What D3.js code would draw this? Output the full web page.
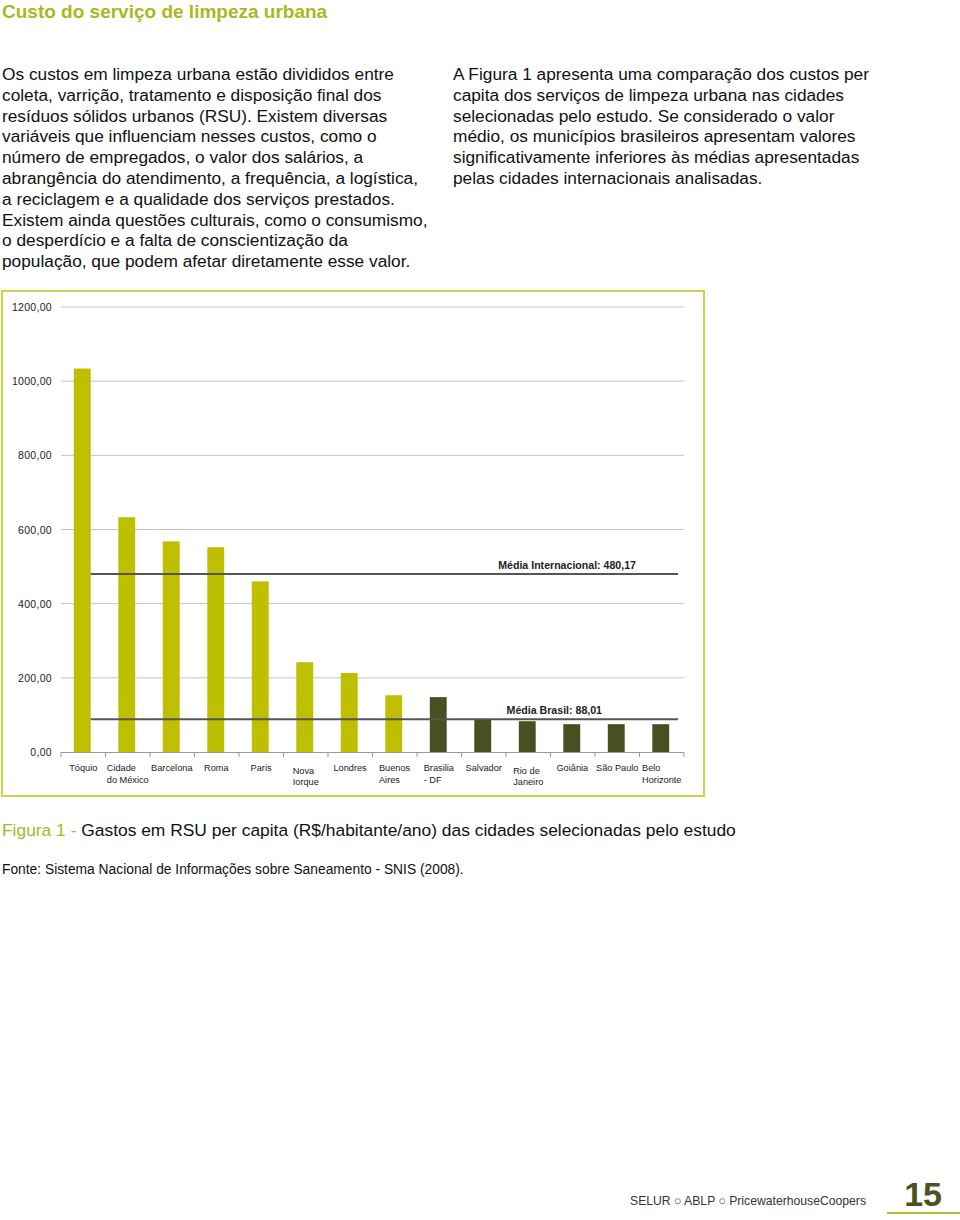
<!DOCTYPE html>
<html><head><meta charset="utf-8">
<script src="https://cdn.jsdelivr.net/npm/d3@7/dist/d3.min.js"></script>
<style>
body{margin:0;background:#fff;}
svg{display:block;font-family:"Liberation Sans",Arial,sans-serif;}
</style></head>
<body>
<svg id="c" width="960" height="1220"></svg>
<script>
const cities = [["Tóquio"],["Cidade","do México"],["Barcelona"],["Roma"],["Paris"],["Nova","Iorque"],["Londres"],["Buenos","Aires"],["Brasilia","- DF"],["Salvador"],["Rio de","Janeiro"],["Goiânia"],["São Paulo"],["Belo","Horizonte"]];
const values = [1034, 633, 568, 552, 460, 242, 213, 153, 148, 89, 83, 75, 75, 75];
const groups = ["int","int","int","int","int","int","int","int","br","br","br","br","br","br"];
const yTicks = [0,200,400,600,800,1000,1200];
const mediaInt = 480.17, mediaBr = 88.01;
const leftText = ["Os custos em limpeza urbana estão divididos entre","coleta, varrição, tratamento e disposição final dos","resíduos sólidos urbanos (RSU). Existem diversas","variáveis que influenciam nesses custos, como o","número de empregados, o valor dos salários, a","abrangência do atendimento, a frequência, a logística,","a reciclagem e a qualidade dos serviços prestados.","Existem ainda questões culturais, como o consumismo,","o desperdício e a falta de conscientização da","população, que podem afetar diretamente esse valor."];
const rightText = ["A Figura 1 apresenta uma comparação dos custos per","capita dos serviços de limpeza urbana nas cidades","selecionadas pelo estudo. Se considerado o valor","médio, os municípios brasileiros apresentam valores","significativamente inferiores às médias apresentadas","pelas cidades internacionais analisadas."];

const svg = d3.select("#c");
const olive = "#a9b81b";

svg.append("text").attr("x",2).attr("y",18).attr("font-size",19).attr("font-weight","bold").attr("fill",olive).text("Custo do serviço de limpeza urbana");

svg.selectAll("text.lt").data(leftText).join("text").attr("class","lt")
  .attr("x",2).attr("y",(d,i)=>80+i*20.8).attr("font-size",17.3).attr("fill","#111").text(d=>d);
svg.selectAll("text.rt").data(rightText).join("text").attr("class","rt")
  .attr("x",453).attr("y",(d,i)=>80+i*20.8).attr("font-size",17.3).attr("fill","#111").text(d=>d);

// frame
svg.append("rect").attr("x",2).attr("y",291).attr("width",702).attr("height",505)
  .attr("fill","none").attr("stroke","#cdd444").attr("stroke-width",2);

const x = d3.scaleBand().domain(d3.range(cities.length)).range([61,684]).paddingInner(0).paddingOuter(0);
const y = d3.scaleLinear().domain([0,1200]).range([752,307]);

const g = svg.append("g");
// gridlines
g.selectAll("line.grid").data(yTicks.filter(d=>d>0)).join("line")
  .attr("x1",61).attr("x2",684).attr("y1",d=>y(d)).attr("y2",d=>y(d))
  .attr("stroke","#c4c4c4").attr("stroke-width",1);
// y labels
g.selectAll("text.yl").data(yTicks).join("text").attr("class","yl")
  .attr("x",52).attr("y",d=>y(d)+4).attr("text-anchor","end").attr("font-size",10.5).attr("letter-spacing",0.3).attr("fill","#222")
  .text(d=>d3.format(".2f")(d).replace(".",","));

// bars
const bw = x.bandwidth()*0.38;
g.selectAll("rect.bar").data(values).join("rect")
  .attr("x",(d,i)=>x(i)+x.bandwidth()/2-bw/2-1).attr("width",bw)
  .attr("y",d=>y(d)).attr("height",d=>y(0)-y(d))
  .attr("fill",(d,i)=>groups[i]==="int"?"#bdbf00":"#4a4f22");

// axis
g.append("line").attr("x1",61).attr("x2",684).attr("y1",y(0)+0.5).attr("y2",y(0)+0.5).attr("stroke","#9a9a9a");
g.selectAll("line.tk").data(d3.range(cities.length+1)).join("line")
  .attr("x1",i=>i<cities.length?x(i):684).attr("x2",i=>i<cities.length?x(i):684)
  .attr("y1",y(0)).attr("y2",y(0)+5).attr("stroke","#9a9a9a");

// average lines
const lineX1 = x(0)+x.bandwidth()/2+bw/2-1, lineX2 = 678;
[[mediaInt,"Média Internacional:  480,17",636],[mediaBr,"Média Brasil:  88,01",602]].forEach(([v,t,tx])=>{
  g.append("line").attr("x1",lineX1).attr("x2",lineX2).attr("y1",y(v)).attr("y2",y(v))
    .attr("stroke","#555").attr("stroke-width",2);
  g.append("text").attr("x",tx).attr("y",y(v)-5).attr("text-anchor","end").attr("font-size",10.6)
    .attr("font-weight","bold").attr("fill","#222").text(t);
});

// x labels
const xl = g.selectAll("g.xl").data(cities).join("g").attr("class","xl");
xl.each(function(lines,i){
  const sel = d3.select(this);
  const dy = (i===5||i===10)?2.5:0;
  const t = sel.append("text").attr("font-size",9.2).attr("fill","#222");
  lines.forEach((l,k)=>t.append("tspan").attr("x",0).attr("y",771+dy+k*11.5).text(l));
  const w = t.node().getBBox().width;
  t.attr("transform",`translate(${x(i)+x.bandwidth()/2-w/2},0)`);
});

// caption
const cap = svg.append("text").attr("x",2).attr("y",836).attr("font-size",17.4).attr("fill","#111");
cap.append("tspan").attr("fill",olive).text("Figura 1 - ");
cap.append("tspan").text("Gastos em RSU per capita (R$/habitante/ano) das cidades selecionadas pelo estudo");
svg.append("text").attr("x",2).attr("y",874).attr("font-size",13.8).attr("fill","#111")
  .text("Fonte: Sistema Nacional de Informações sobre Saneamento - SNIS (2008).");

// footer
svg.append("text").attr("x",630).attr("y",1205).attr("font-size",12.2).attr("fill","#333")
  .text("SELUR ○ ABLP ○ PricewaterhouseCoopers");
svg.append("text").attr("x",942).attr("y",1206).attr("text-anchor","end").attr("font-size",34).attr("font-weight","bold").attr("fill","#4b5320").text("15");
svg.append("line").attr("x1",887).attr("x2",960).attr("y1",1213).attr("y2",1213).attr("stroke","#b5c12a").attr("stroke-width",2);
</script>
</body></html>
